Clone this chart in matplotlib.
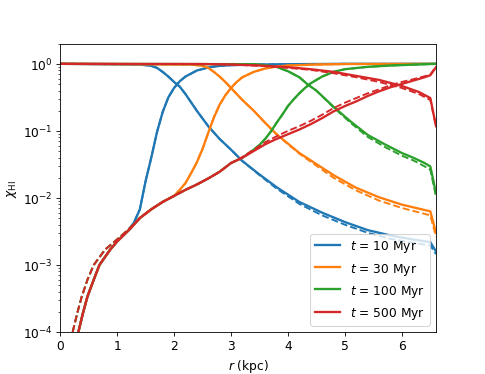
import numpy as np
import matplotlib
matplotlib.use("Agg")
import matplotlib.pyplot as plt

plt.rcParams["font.size"] = 11.7

# ---------------- data (log10 of chi_HI) ----------------
times = [10, 30, 100, 500]
colors = ["tab:blue", "tab:orange", "tab:green", "tab:red"]

# shared low-r branch of the neutral fraction (identical for all times)
r_low = [0.32, 0.40, 0.48, 0.59, 0.69, 0.88, 1.00, 1.23]
low_solid = [-4.0, -3.72, -3.47, -3.22, -3.00, -2.77, -2.65, -2.46]
r_low_d = [0.22, 0.30, 0.38, 0.48, 0.59, 0.79, 1.00, 1.20]
low_dashed = [-4.0, -3.72, -3.47, -3.22, -3.00, -2.77, -2.62, -2.47]

# rising branch (continuation after r_low), solid runs
r_rise = {
    10: [1.3, 1.4, 1.5, 1.6, 1.7, 1.8, 1.9, 2.0, 2.1, 2.2, 2.4, 2.6, 2.8, 3.0, 3.5, 4.0, 5.0, 6.0, 6.6],
    30: [1.4, 1.6, 1.8, 2.0, 2.1, 2.2, 2.3, 2.4, 2.5, 2.6, 2.7, 2.8, 2.9, 3.0, 3.1, 3.2, 3.4, 3.6,
         3.8, 4.0, 4.5, 5.0, 6.6],
    100: [1.4, 1.6, 1.8, 2.0, 2.2, 2.4, 2.6, 2.8, 3.0, 3.2, 3.4, 3.5, 3.6, 3.7, 3.8, 3.9, 4.0, 4.1,
          4.2, 4.3, 4.4, 4.5, 4.6, 4.8, 5.0, 5.4, 5.8, 6.2, 6.6],
    500: [1.4, 1.6, 1.8, 2.0, 2.2, 2.4, 2.6, 2.8, 3.0, 3.2, 3.4, 3.6, 3.8, 4.0, 4.2, 4.4, 4.6, 4.8,
          5.0, 5.2, 5.4, 5.6, 5.8, 6.0, 6.2, 6.4, 6.5, 6.6],
}
rise_solid = {
    10: [-2.36, -2.17, -1.75, -1.40, -1.02, -0.72, -0.50, -0.36, -0.26, -0.19, -0.10, -0.055,
         -0.03, -0.02, -0.01, -0.005, 0.0, 0.0, 0.0],
    30: [-2.30, -2.17, -2.06, -1.97, -1.88, -1.78, -1.63, -1.47, -1.27, -1.03, -0.80, -0.61, -0.47,
         -0.36, -0.27, -0.20, -0.12, -0.07, -0.04, -0.025, -0.01, -0.003, 0.0],
    100: [-2.30, -2.17, -2.06, -1.97, -1.88, -1.80, -1.71, -1.61, -1.48, -1.40, -1.28, -1.21, -1.12,
          -1.01, -0.88, -0.76, -0.63, -0.53, -0.44, -0.36, -0.29, -0.24, -0.19, -0.12, -0.08,
          -0.045, -0.025, -0.012, 0.0],
    500: [-2.30, -2.17, -2.06, -1.97, -1.88, -1.80, -1.71, -1.61, -1.48, -1.40, -1.30, -1.20, -1.12,
          -1.05, -0.98, -0.90, -0.81, -0.71, -0.63, -0.56, -0.48, -0.41, -0.35, -0.30, -0.25,
          -0.20, -0.17, -0.05],
}
# dashed (reference) rising branch: same r samples
rise_dashed = {
    10: rise_solid[10],
    30: rise_solid[30],
    100: rise_solid[100],
    500: [-2.30, -2.17, -2.06, -1.97, -1.88, -1.80, -1.71, -1.61, -1.48, -1.39, -1.28, -1.17, -1.08,
          -1.00, -0.93, -0.85, -0.76, -0.66, -0.58, -0.51, -0.44, -0.38, -0.32, -0.27, -0.23,
          -0.185, -0.16, -0.04],
}

# falling branch
r_fall = {
    10: [0.0, 1.4, 1.6, 1.7, 1.8, 1.9, 2.0, 2.1, 2.2, 2.4, 2.6, 2.8, 3.0, 3.2, 3.5, 3.8, 4.2, 4.6,
         5.0, 5.4, 5.8, 6.2, 6.5, 6.6],
    30: [0.0, 2.3, 2.5, 2.6, 2.7, 2.8, 2.9, 3.0, 3.1, 3.2, 3.4, 3.6, 3.8, 4.0, 4.2, 4.4, 4.8, 5.2,
         5.6, 6.0, 6.5, 6.6],
    100: [0.0, 3.4, 3.6, 3.8, 4.0, 4.2, 4.35, 4.5, 4.8, 5.1, 5.4, 5.7, 6.0, 6.2, 6.4, 6.5, 6.6],
    500: [0.0, 2.5, 3.0, 3.5, 4.0, 4.4, 4.8, 5.2, 5.6, 6.0, 6.3, 6.5, 6.6],
}
fall_solid = {
    10: [0.0, -0.01, -0.03, -0.06, -0.12, -0.19, -0.27, -0.34, -0.45, -0.70, -0.93, -1.12, -1.28,
         -1.45, -1.65, -1.84, -2.06, -2.22, -2.36, -2.48, -2.56, -2.62, -2.66, -2.80],
    30: [0.0, -0.01, -0.03, -0.06, -0.12, -0.19, -0.27, -0.36, -0.45, -0.54, -0.70, -0.88, -1.05,
         -1.19, -1.33, -1.44, -1.66, -1.85, -1.99, -2.10, -2.20, -2.52],
    100: [0.0, -0.005, -0.02, -0.045, -0.11, -0.20, -0.31, -0.40, -0.64, -0.86, -1.06, -1.20,
          -1.33, -1.40, -1.48, -1.53, -1.93],
    500: [0.0, -0.003, -0.01, -0.025, -0.05, -0.08, -0.12, -0.18, -0.24, -0.33, -0.42, -0.51, -0.93],
}
fall_dashed = {
    10: [0.0, -0.01, -0.03, -0.06, -0.12, -0.19, -0.27, -0.34, -0.45, -0.70, -0.93, -1.12, -1.28,
         -1.45, -1.66, -1.86, -2.09, -2.26, -2.40, -2.52, -2.61, -2.67, -2.71, -2.84],
    30: [0.0, -0.01, -0.03, -0.06, -0.12, -0.19, -0.27, -0.36, -0.45, -0.54, -0.70, -0.88, -1.05,
         -1.20, -1.34, -1.46, -1.70, -1.89, -2.04, -2.15, -2.26, -2.58],
    100: [0.0, -0.005, -0.02, -0.045, -0.11, -0.20, -0.31, -0.40, -0.65, -0.88, -1.09, -1.24,
          -1.37, -1.44, -1.53, -1.58, -1.98],
    500: [0.0, -0.003, -0.01, -0.03, -0.06, -0.09, -0.14, -0.20, -0.27, -0.36, -0.45, -0.54, -0.93],
}

labels = [rf"$t$ = {t} Myr" for t in times]

# ---------------- plot ----------------
fig = plt.figure(figsize=(6.4, 4.948), dpi=485 / 6.4)
ax = fig.add_subplot(111)
fig.subplots_adjust(left=0.124, right=0.899, bottom=0.112, top=0.881)

handles = []
for t, c, lab in zip(times, colors, labels):
    rs = np.concatenate([r_low, r_rise[t]])
    ys = np.power(10.0, np.concatenate([low_solid, rise_solid[t]]))
    rd = np.concatenate([r_low_d, r_rise[t]])
    yd = np.power(10.0, np.concatenate([low_dashed, rise_dashed[t]]))
    ax.plot(rd, yd, color=c, lw=1.8, ls="--")
    ax.plot(r_fall[t], np.power(10.0, fall_dashed[t]), color=c, lw=1.8, ls="--")
    h, = ax.plot(rs, ys, color=c, lw=2.2, label=lab)
    ax.plot(r_fall[t], np.power(10.0, fall_solid[t]), color=c, lw=2.2)
    handles.append(h)

ax.set_yscale("log")
ax.set_xlim(0, 6.6)
ax.set_ylim(1e-4, 2)
ax.set_xlabel(r"$r$ (kpc)")
ax.set_ylabel(r"$\chi_{\rm HI}$")
ax.legend(handles=handles, loc="lower right")

fig.savefig("out.png", dpi=485 / 6.4)
